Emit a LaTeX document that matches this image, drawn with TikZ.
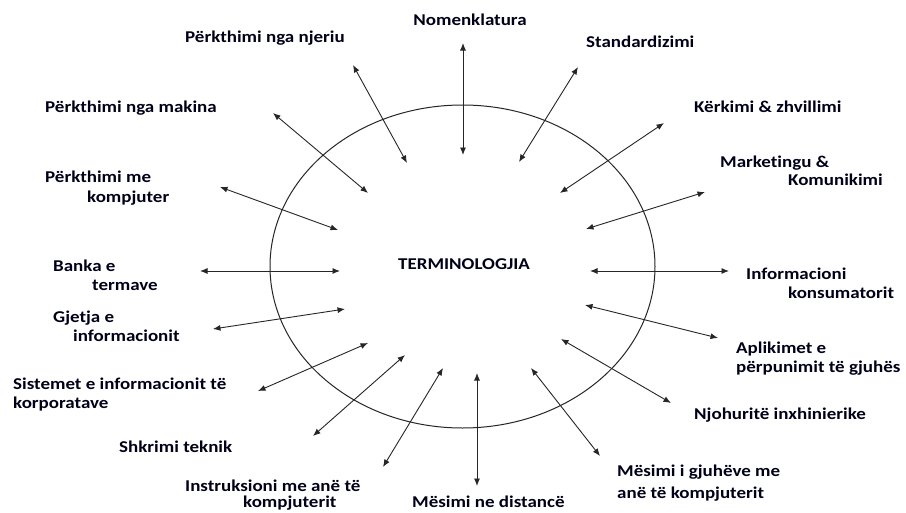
\documentclass[tikz,border=0pt]{standalone}
\usepackage{fontspec}
\setmainfont{Carlito}[FakeStretch=1.15, Ligatures={NoCommon}]
\usetikzlibrary{arrows.meta,shapes.geometric}
\begin{document}
\begin{tikzpicture}[x=1pt,y=-1pt,
  lbl/.style={font=\bfseries\fontsize{16.5}{19.8}\selectfont, text=black!90!blue, inner sep=0pt, anchor=base west},
  conn/.style={{Latex[length=7.5pt,width=6pt]}-{Latex[length=7.5pt,width=6pt]}, line width=0.9pt, draw=black!85},
  ring/.style={draw=black!85, line width=1pt, ellipse, minimum width=385pt, minimum height=323pt, inner sep=0pt}]
\useasboundingbox[fill=white] (0,0) rectangle (906,512);

\node[ring] (ring) at (462.5,266.5) {};
\node[lbl] (term) at (398,269) {TERMINOLOGJIA};

% labels
\node[lbl, anchor=base] (nom) at (470,25) {Nomenklatura};
\node[lbl] (nje) at (185,42) {Përkthimi nga njeriu};
\node[lbl] (std) at (586,47) {Standardizimi};
\node[lbl] (mak) at (45,112) {Përkthimi nga makina};
\node[lbl] (ker) at (694,112) {Kërkimi \& zhvillimi};
\node[lbl] (mkta) at (720,167) {Marketingu \&};
\node[lbl] (mktb) at (788,185) {Komunikimi};
\node[lbl] (kmpa) at (45,182) {Përkthimi me};
\node[lbl] (kmpb) at (87,202) {kompjuter};
\node[lbl] (bana) at (53,271) {Banka e};
\node[lbl] (banb) at (92,290) {termave};
\node[lbl] (gjea) at (53,322) {Gjetja e};
\node[lbl] (gjeb) at (73,341) {informacionit};
\node[lbl] (sisa) at (13,389) {Sistemet e informacionit të};
\node[lbl] (sisb) at (13,408) {korporatave};
\node[lbl] (shk) at (119,452) {Shkrimi teknik};
\node[lbl] (insa) at (185,491) {Instruksioni me anë të};
\node[lbl] (insb) at (243,507.5) {kompjuterit};
\node[lbl] (dis) at (412,507.5) {Mësimi ne distancë};
\node[lbl] (infa) at (746,279) {Informacioni};
\node[lbl] (infb) at (788,298) {konsumatorit};
\node[lbl] (apla) at (736,353) {Aplikimet e};
\node[lbl] (aplb) at (736,372) {përpunimit të gjuhës};
\node[lbl] (njo) at (694,419) {Njohuritë inxhinierike};
\node[lbl] (mgja) at (617,476) {Mësimi i gjuhëve me};
\node[lbl] (mgjb) at (617,498) {anë të kompjuterit};

% arrow ends
\coordinate (nom1) at (463,43);  \coordinate (nom2) at (463,155);
\coordinate (nje1) at (353,65);  \coordinate (nje2) at (407,163);
\coordinate (std1) at (578,67);  \coordinate (std2) at (519,162);
\coordinate (mak1) at (273,113); \coordinate (mak2) at (368,193);
\coordinate (ker1) at (664,123); \coordinate (ker2) at (560,193);
\coordinate (mkt1) at (705,192); \coordinate (mkt2) at (586,229);
\coordinate (kmp1) at (220,187); \coordinate (kmp2) at (338,230);
\coordinate (ban1) at (200,271); \coordinate (ban2) at (340,271);
\coordinate (inf1) at (729,271); \coordinate (inf2) at (590,271);
\coordinate (gje1) at (213,329); \coordinate (gje2) at (345,309);
\coordinate (apl1) at (718,338); \coordinate (apl2) at (585,305);
\coordinate (sis1) at (258,391); \coordinate (sis2) at (368,343);
\coordinate (njo1) at (671,403); \coordinate (njo2) at (561,339);
\coordinate (shk1) at (313,436); \coordinate (shk2) at (405,355);
\coordinate (ins1) at (383,467); \coordinate (ins2) at (443,368);
\coordinate (mgj1) at (600,456); \coordinate (mgj2) at (531,368);
\coordinate (dis1) at (477,486); \coordinate (dis2) at (477,373);

\foreach \a in {nom,nje,std,mak,ker,mkt,kmp,ban,inf,gje,apl,sis,njo,shk,ins,mgj,dis}
  \draw[conn] (\a1) -- (\a2);
\end{tikzpicture}
\end{document}
